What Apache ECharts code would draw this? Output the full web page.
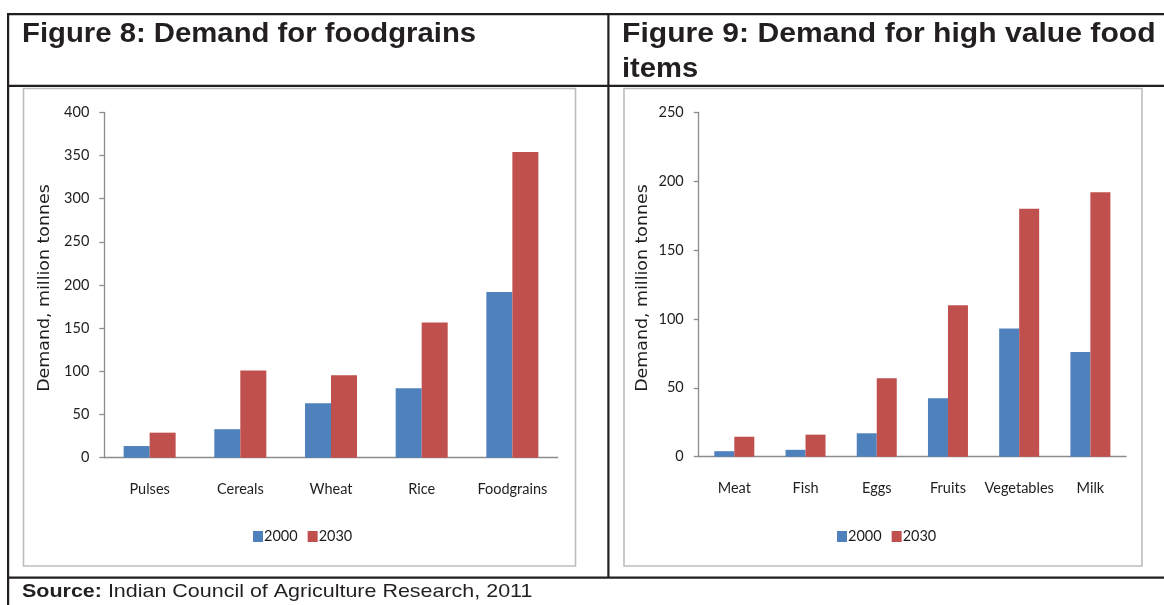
<!DOCTYPE html>
<html><head><meta charset="utf-8">
<script src="https://cdn.jsdelivr.net/npm/echarts@6/dist/echarts.min.js"></script>
<style>html,body{margin:0;padding:0;background:#fff}#c{width:1164px;height:605px}</style>
</head><body><div id="c"></div>
<script>
// ---- data ----
const foodCategories = ['Pulses', 'Cereals', 'Wheat', 'Rice', 'Foodgrains'];
const food2000 = [13.5, 33, 63, 80.5, 192];
const food2030 = [29, 101, 95.5, 156.5, 354];
const hvCategories = ['Meat', 'Fish', 'Eggs', 'Fruits', 'Vegetables', 'Milk'];
const hv2000 = [4, 5, 17, 42.5, 93, 76];
const hv2030 = [14.5, 16, 57, 110, 180, 192];
const seriesNames = ['2000', '2030'];
const title8 = 'Figure 8: Demand for foodgrains';
const title9a = 'Figure 9: Demand for high value food';
const title9b = 'items';
const yTitle = 'Demand, million tonnes';
const sourceLabel = 'Source:';
const sourceText = ' Indian Council of Agriculture Research, 2011';

// ---- styles ----
const blue = '#4F81BD', red = '#C0504D';
const axisColor = '#8c8c8c';
const ink = '#231f20';
const labelFont = 'Lato, sans-serif';
const chart = echarts.init(document.getElementById('c'), null, {renderer: 'canvas'});

function xAx(idx, cats) {
  return {type: 'category', gridIndex: idx, data: cats,
    axisLine: {lineStyle: {color: axisColor, width: 1.3}},
    axisTick: {length: 5, lineStyle: {color: axisColor, width: 1.3}},
    axisLabel: {color: '#1e1e1e', fontSize: 14.5, fontFamily: labelFont, margin: 24, interval: 0}};
}
function yAx(idx, max) {
  return {type: 'value', gridIndex: idx, min: 0, max: max, interval: 50,
    splitLine: {show: false},
    axisLine: {show: true, lineStyle: {color: axisColor, width: 1.3}},
    axisTick: {show: true, length: 5, lineStyle: {color: axisColor, width: 1.3}},
    axisLabel: {color: '#1e1e1e', fontSize: 14.5, fontFamily: labelFont, margin: 15}};
}
function legend(left) {
  return {data: seriesNames, left: left, top: 529, orient: 'horizontal', icon: 'rect',
    itemWidth: 10, itemHeight: 11, itemGap: 10, padding: 0,
    textStyle: {fontFamily: labelFont, fontSize: 14.5, color: '#1e1e1e', padding: [0, 0, 0, -4]}};
}
function bar(name, idx, data, color, w) {
  return {name: name, type: 'bar', xAxisIndex: idx, yAxisIndex: idx, data: data,
    barWidth: w, barGap: '0%', itemStyle: {color: color}};
}
const line = (x, y, w, h) => ({type: 'rect', shape: {x: x, y: y, width: w, height: h}, style: {fill: ink}, silent: true});
const box = (x, y, w, h) => ({type: 'rect', shape: {x: x, y: y, width: w, height: h},
  style: {fill: 'none', stroke: '#bdbdbd', lineWidth: 1.6}, silent: true});
const yName = (x) => ({type: 'text', x: x, y: 288, rotation: Math.PI / 2, scaleX: 1.16, silent: true,
  style: {text: yTitle, fontFamily: 'DejaVu Sans', fontSize: 15, fill: '#1e1e1e', align: 'center', verticalAlign: 'middle'}});

const option = {
  animation: false,
  backgroundColor: '#fff',
  grid: [
    {left: 104.3, top: 112.3, width: 453.4, height: 345.4},
    {left: 698.7, top: 112.3, width: 427.3, height: 344.4}
  ],
  xAxis: [xAx(0, foodCategories), xAx(1, hvCategories)],
  yAxis: [yAx(0, 400), yAx(1, 250)],
  legend: [legend(253), legend(837)],
  series: [
    bar(seriesNames[0], 0, food2000, blue, 26),
    bar(seriesNames[1], 0, food2030, red, 26),
    bar(seriesNames[0], 1, hv2000, blue, 20),
    bar(seriesNames[1], 1, hv2030, red, 20)
  ],
  graphic: [
    box(23.5, 88.5, 552, 477.5),
    box(624, 88.5, 518, 477.5),
    line(7, 13, 1157, 2.2),
    line(7, 13, 2.2, 592),
    line(7, 84.8, 1157, 2.2),
    line(607.3, 13, 2.2, 565),
    line(7, 576.5, 1157, 2.2),
    yName(45),
    yName(643),
    {type: 'text', x: 22, y: 35, scaleX: 1.085, silent: true,
      style: {text: title8, fontFamily: 'Liberation Sans', fontWeight: 'bold', fontSize: 27, fill: ink, verticalAlign: 'middle'}},
    {type: 'text', x: 622, y: 35, scaleX: 1.115, silent: true,
      style: {text: title9a, fontFamily: 'Liberation Sans', fontWeight: 'bold', fontSize: 27, fill: ink, verticalAlign: 'middle'}},
    {type: 'text', x: 622, y: 70, scaleX: 1.08, silent: true,
      style: {text: title9b, fontFamily: 'Liberation Sans', fontWeight: 'bold', fontSize: 27, fill: ink, verticalAlign: 'middle'}},
    {type: 'text', x: 22, y: 592, scaleX: 1.13, silent: true,
      style: {text: '{b|' + sourceLabel + '}' + sourceText, fontFamily: 'Liberation Sans', fontSize: 19, fill: ink, verticalAlign: 'middle',
        rich: {b: {fontWeight: 'bold', fontFamily: 'Liberation Sans', fontSize: 19, fill: ink}}}}
  ]
};
chart.setOption(option);
</script></body></html>
